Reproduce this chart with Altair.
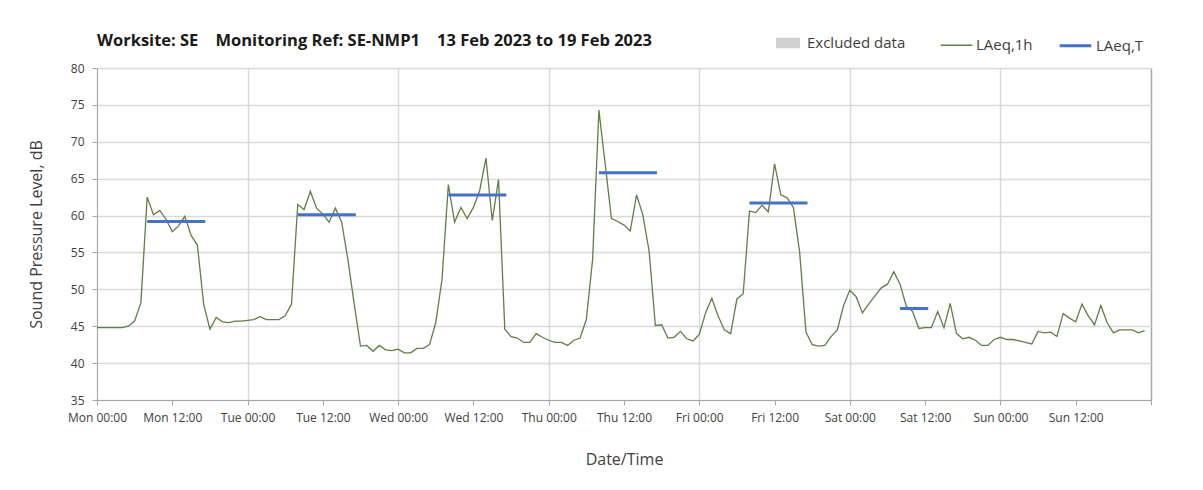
import json
import altair as alt
import pandas as pd

# ---------------- data ----------------
hours = list(range(168))
laeq_1h = [
    # Mon
    44.8, 44.8, 44.8, 44.8, 44.8, 45.0, 45.7, 48.2, 62.5, 60.1, 60.7, 59.5,
    57.8, 58.6, 59.9, 57.3, 56.0, 48.0, 44.6, 46.2, 45.6, 45.5, 45.7, 45.7,
    # Tue
    45.8, 45.9, 46.3, 45.9, 45.9, 45.9, 46.4, 48.0, 61.5, 60.8, 63.3, 61.0,
    60.2, 59.1, 61.0, 59.1, 54.0, 48.0, 42.3, 42.4, 41.6, 42.4, 41.8, 41.7,
    # Wed
    41.9, 41.4, 41.4, 42.0, 42.0, 42.5, 45.5, 51.4, 64.2, 59.1, 61.1, 59.6,
    61.1, 63.4, 67.8, 59.3, 64.9, 44.6, 43.6, 43.4, 42.8, 42.8, 44.0, 43.5,
    # Thu
    43.1, 42.8, 42.8, 42.4, 43.1, 43.4, 45.9, 54.1, 74.3, 67.0, 59.6, 59.2,
    58.7, 57.9, 62.8, 60.1, 55.2, 45.1, 45.2, 43.4, 43.5, 44.3, 43.3, 43.0,
    # Fri
    43.9, 46.8, 48.8, 46.4, 44.5, 44.0, 48.7, 49.4, 60.6, 60.4, 61.4, 60.5,
    67.0, 62.8, 62.4, 61.1, 55.0, 44.2, 42.5, 42.3, 42.4, 43.6, 44.5, 47.8,
    # Sat
    49.9, 49.0, 46.8, 48.0, 49.1, 50.2, 50.7, 52.4, 50.7, 47.7, 47.0, 44.7,
    44.8, 44.8, 47.0, 44.8, 48.1, 44.0, 43.3, 43.5, 43.1, 42.4, 42.4, 43.2,
    # Sun
    43.5, 43.2, 43.2, 43.0, 42.8, 42.6, 44.3, 44.1, 44.2, 43.6, 46.7, 46.1,
    45.6, 48.0, 46.4, 45.2, 47.8, 45.5, 44.1, 44.5, 44.5, 44.5, 44.1, 44.4,
]
period_start = [8, 32, 56, 80, 104, 128]
period_end = [17.25, 41.25, 65.25, 89.25, 113.25, 132.5]
laeq_t = [59.2, 60.1, 62.8, 65.8, 61.7, 47.4]

# no excluded periods in this week
excluded_start = []
excluded_end = []

line_series = ["LAeq,1h", "LAeq,T"]
line_colors = ["#5f7f45", "#4472c4"]
line_widths = [1.3, 3]
excluded_name = ["Excluded data"]
excluded_color = ["#d0d0d0"]

tick_hours = list(range(0, 169, 12))
tick_labels = ["Mon 00:00", "Mon 12:00", "Tue 00:00", "Tue 12:00", "Wed 00:00",
               "Wed 12:00", "Thu 00:00", "Thu 12:00", "Fri 00:00", "Fri 12:00",
               "Sat 00:00", "Sat 12:00", "Sun 00:00", "Sun 12:00", ""]
y_ticks = list(range(35, 81, 5))

title_text = ("Worksite: SE\u00a0\u00a0\u00a0\u00a0Monitoring Ref: SE-NMP1"
              "\u00a0\u00a0\u00a0\u00a013 Feb 2023 to 19 Feb 2023")

# ---------------- tables ----------------
df_1h = pd.DataFrame({"hour": hours, "level": laeq_1h, "series": "LAeq,1h"})
df_t = pd.DataFrame({"start": period_start, "end": period_end,
                     "level": laeq_t, "series": "LAeq,T"})
df_ex = pd.DataFrame({"start": pd.Series(excluded_start, dtype=float),
                      "end": pd.Series(excluded_end, dtype=float),
                      "kind": pd.Series([], dtype=str)})

FONT = "Open Sans"
TXT = "#404040"

color_scale = alt.Scale(domain=line_series, range=line_colors)
width_scale = alt.Scale(domain=line_series, range=line_widths)

line_legend = alt.Legend(
    title=None, orient="none", legendX=843, legendY=-40, direction="horizontal",
    labelFont=FONT, labelFontSize=15, labelColor=TXT, labelOffset=3,
    symbolType="stroke", symbolSize=1000, columnPadding=20,
)
fill_legend = alt.Legend(
    title=None, orient="none", legendX=676, legendY=-40, direction="horizontal",
    labelFont=FONT, labelFontSize=15, labelColor=TXT, labelOffset=4,
    symbolType="M-0.8,-0.35H0.8V0.35H-0.8Z", symbolSize=900,
    symbolStrokeWidth=0, symbolOpacity=1,
)

x_axis = alt.Axis(
    title="Date/Time", values=tick_hours,
    labelExpr=json.dumps(tick_labels) + "[round(datum.value / 12)]",
    labelOverlap=False, labelFlush=False, labelBound=False,
    grid=True,
    gridColor={"condition": {"test": "datum.value === 168", "value": "#a6a6a6"},
               "value": "#d9d9d9"},
    gridOpacity={"condition": {"test": "datum.value % 24 === 0", "value": 1},
                 "value": 0},
    gridWidth=1.5,
    labelFont=FONT, labelFontSize=12, labelColor=TXT, labelPadding=7,
    titleFont=FONT, titleFontSize=16, titleFontWeight="normal", titleColor=TXT,
    titlePadding=28,
    domainColor="#a6a6a6", tickColor="#a6a6a6", tickSize=5,
)
y_axis = alt.Axis(
    title="Sound Pressure Level, dB", values=y_ticks, tickCount=10, grid=True,
    labelOverlap=False, labelFlush=False, labelBound=False,
    gridColor="#d9d9d9", gridWidth=1.5,
    labelFont=FONT, labelFontSize=12, labelColor=TXT, labelPadding=8,
    titleFont=FONT, titleFontSize=16, titleFontWeight="normal", titleColor=TXT,
    titlePadding=26,
    domainColor="#a6a6a6", tickColor="#a6a6a6", tickSize=5,
)

x_scale = alt.Scale(domain=[0, 168], nice=False, zero=False)
y_scale = alt.Scale(domain=[35, 80], nice=False, zero=False)

excluded = alt.Chart(df_ex).mark_rect(opacity=0.8).encode(
    x=alt.X("start:Q", scale=x_scale, axis=x_axis),
    x2="end:Q",
    y=alt.value(0), y2=alt.value(332),
    fill=alt.Fill("kind:N", scale=alt.Scale(domain=excluded_name, range=excluded_color),
                  legend=fill_legend),
)

line = alt.Chart(df_1h).mark_line().encode(
    x=alt.X("hour:Q", scale=x_scale, axis=x_axis),
    y=alt.Y("level:Q", scale=y_scale, axis=y_axis),
    color=alt.Color("series:N", scale=color_scale, legend=line_legend),
    strokeWidth=alt.StrokeWidth("series:N", scale=width_scale, legend=line_legend),
)

rules = alt.Chart(df_t).mark_rule().encode(
    x=alt.X("start:Q", scale=x_scale, axis=x_axis),
    x2="end:Q",
    y=alt.Y("level:Q", scale=y_scale, axis=y_axis),
    color=alt.Color("series:N", scale=color_scale, legend=line_legend),
    strokeWidth=alt.StrokeWidth("series:N", scale=width_scale, legend=line_legend),
)

chart = alt.layer(excluded, line, rules).properties(
    width=1054, height=332,
    padding={"left": 89, "top": 60, "right": 40, "bottom": 80},
    autosize=alt.AutoSizeParams(type="none"),
    title=alt.TitleParams(title_text, anchor="start", frame="group", font=FONT,
                          fontSize=16.5, fontWeight="bold", color="#1a1a1a",
                          offset=-21),
).configure_view(stroke=None).configure(background="white")

chart.save("out.html", embed_options={"renderer": "svg", "actions": False})
